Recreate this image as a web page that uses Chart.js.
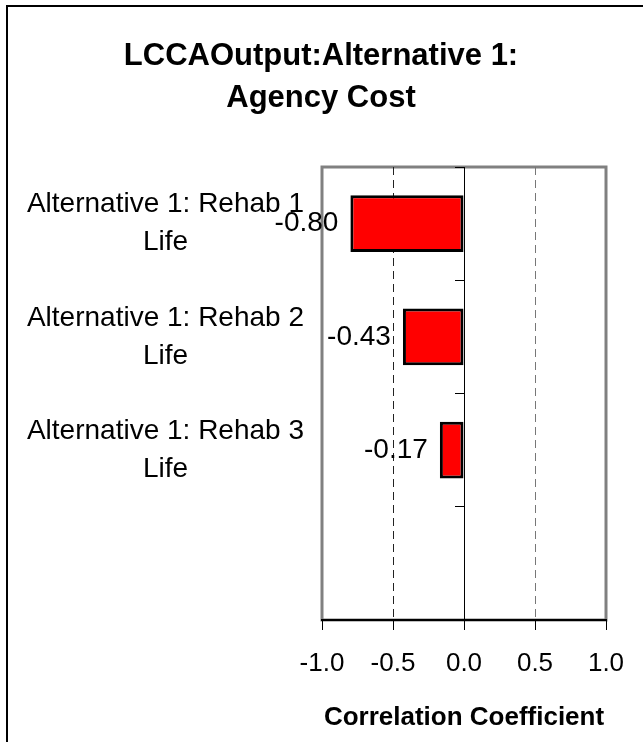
<!DOCTYPE html>
<html lang="en">
<head>
    <meta charset="UTF-8">
    <title>LCCAOutput: Alternative 1: Agency Cost</title>
    <script src="https://cdn.jsdelivr.net/npm/chart.js"></script>
    <style>
        body { margin: 0; background: #fff; }
        canvas { display: block; }
    </style>
</head>
<body>
    <canvas id="tornado" width="643" height="742"></canvas>

    <script>
        // Chart data
        const categories = [
            ['Alternative 1: Rehab 1', 'Life'],
            ['Alternative 1: Rehab 2', 'Life'],
            ['Alternative 1: Rehab 3', 'Life'],
            ''
        ];
        const coefficients = [-0.80, -0.43, -0.17];
        const tickValues = [-1.0, -0.5, 0.0, 0.5, 1.0];

        const FONT = 'Arial, "Liberation Sans", sans-serif';
        Chart.defaults.font.family = FONT;
        Chart.defaults.color = '#000';

        // outer frame + grey plot box, drawn under the axes
        const frames = {
            id: 'frames',
            afterLayout(chart) {
                // let the long category labels use the whole left margin
                chart.scales.y.left = 0;
            },
            beforeDraw(chart) {
                const { ctx, chartArea: a } = chart;
                ctx.save();
                ctx.strokeStyle = '#000';
                ctx.lineWidth = 2;
                ctx.beginPath();
                ctx.moveTo(7, 742);
                ctx.lineTo(7, 6);
                ctx.lineTo(643, 6);
                ctx.stroke();
                ctx.strokeStyle = '#808080';
                ctx.lineWidth = 3;
                ctx.strokeRect(a.left, a.top, a.right - a.left, a.bottom - a.top);
                ctx.restore();
            }
        };

        // value printed left of each bar
        const valueLabels = {
            id: 'valueLabels',
            afterDatasetsDraw(chart) {
                const { ctx } = chart;
                const meta = chart.getDatasetMeta(0);
                ctx.save();
                ctx.font = '28px ' + FONT;
                ctx.fillStyle = '#000';
                ctx.textAlign = 'right';
                ctx.textBaseline = 'middle';
                meta.data.forEach((bar, i) => {
                    ctx.fillText(coefficients[i].toFixed(2), bar.x - 12, bar.y);
                });
                ctx.restore();
            }
        };

        new Chart(document.getElementById('tornado'), {
            type: 'bar',
            data: {
                labels: categories,
                datasets: [{
                    data: coefficients,
                    backgroundColor: '#ff0000',
                    borderColor: '#000',
                    borderWidth: 3,
                    borderSkipped: false,
                    categoryPercentage: 0.5,
                    barPercentage: 1.0
                }]
            },
            options: {
                indexAxis: 'y',
                responsive: false,
                animation: false,
                layout: { padding: { left: 36, right: 37, top: 0, bottom: 0 } },
                plugins: {
                    legend: { display: false },
                    tooltip: { enabled: false },
                    title: {
                        display: true,
                        text: ['LCCAOutput:Alternative 1:', 'Agency Cost'],
                        font: { size: 31, weight: 'bold', lineHeight: 1.355 },
                        color: '#000',
                        padding: { top: 35, bottom: 48 }
                    }
                },
                scales: {
                    x: {
                        type: 'linear',
                        min: -1,
                        max: 1,
                        afterBuildTicks: (s) => { s.ticks = tickValues.map(v => ({ value: v })); },
                        ticks: {
                            font: { size: 26 },
                            padding: 18,
                            callback: (v) => Number(v).toFixed(1)
                        },
                        grid: {
                            color: (c) => {
                                const v = c.tick ? c.tick.value : null;
                                if (v === 0) return '#000';
                                if (v === -0.5) return '#222';
                                if (v === 0.5) return '#777';
                                return 'rgba(0,0,0,0)';
                            },
                            lineWidth: 1,
                            tickColor: '#000',
                            tickLength: 10
                        },
                        border: {
                            display: true,
                            color: '#000',
                            width: 2,
                            dash: (c) => (c.tick && c.tick.value !== 0 ? [8, 5] : [])
                        },
                        title: {
                            display: true,
                            text: 'Correlation Coefficient',
                            font: { size: 26, weight: 'bold' },
                            padding: { top: 0, bottom: 9 }
                        },
                        afterFit: (s) => { s.height = 122; }
                    },
                    y: {
                        type: 'category',
                        position: 'left',
                        grid: { display: false, drawTicks: false },
                        border: { display: false },
                        ticks: {
                            autoSkip: false,
                            crossAlign: 'center',
                            padding: 18,
                            font: { size: 28, lineHeight: 1.36 }
                        },
                        afterFit: (s) => { s.width = 286; }
                    },
                    // short ticks on the zero line between categories
                    yz: {
                        type: 'category',
                        position: { x: 0 },
                        offset: true,
                        grid: {
                            offset: true,
                            drawOnChartArea: false,
                            tickLength: 9,
                            color: '#000',
                            lineWidth: 1
                        },
                        border: { display: false },
                        ticks: { display: false }
                    }
                }
            },
            plugins: [frames, valueLabels]
        });
    </script>
</body>
</html>
